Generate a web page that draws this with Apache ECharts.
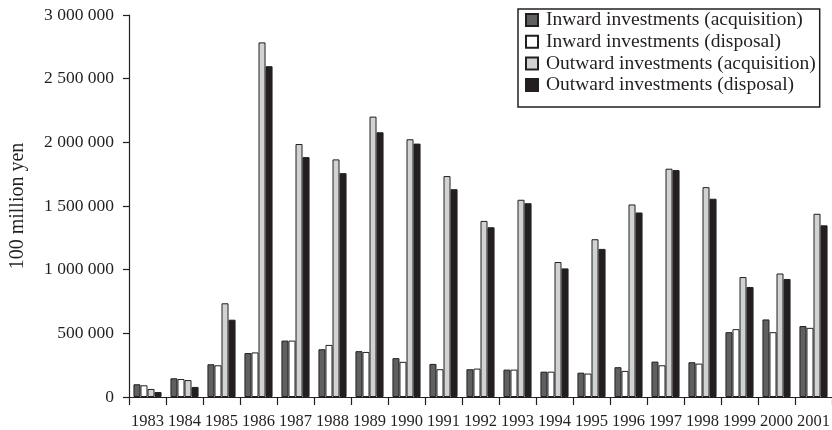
<!DOCTYPE html>
<html>
<head>
<meta charset="utf-8">
<script src="https://cdn.jsdelivr.net/npm/echarts@6/dist/echarts.min.js"></script>
<style>
	html, body { margin: 0; padding: 0; background: #fff; }
	#chart { width: 832px; height: 430px; }
</style>
</head>
<body>
<div id="chart"></div>
<script>
const years = ["1983", "1984", "1985", "1986", "1987", "1988", "1989", "1990", "1991", "1992",
	"1993", "1994", "1995", "1996", "1997", "1998", "1999", "2000", "2001"]
const seriesNames = [
	"Inward investments (acquisition)",
	"Inward investments (disposal)",
	"Outward investments (acquisition)",
	"Outward investments (disposal)",
]
const inwardAcq = [100000, 147000, 257000, 345000, 443000, 375000, 360000, 305000, 260000, 218000,
	215000, 199000, 191000, 234000, 278000, 273000, 509000, 609000, 557000]
const inwardDis = [92000, 141000, 249000, 350000, 443000, 409000, 354000, 276000, 218000, 223000,
	215000, 199000, 184000, 205000, 249000, 262000, 533000, 509000, 543000]
const outwardAcq = [63000, 133000, 736000, 2785000, 1987000, 1866000, 2202000, 2024000, 1735000, 1383000,
	1549000, 1060000, 1239000, 1512000, 1793000, 1648000, 942000, 970000, 1439000]
const outwardDis = [39000, 79000, 607000, 2598000, 1884000, 1758000, 2079000, 1990000, 1632000, 1333000,
	1522000, 1010000, 1163000, 1449000, 1782000, 1557000, 864000, 927000, 1348000]
const yTicks = { min: 0, max: 3000000, interval: 500000 }

const ink = "#231f20"
const font = "Liberation Serif"
const fills = ["#606062", "#ffffff", "#d1d2d4", "#231f20"]
const values = [inwardAcq, inwardDis, outwardAcq, outwardDis]

// 3000000 -> "3 000 000"
const fmt = (v) => String(v).replace(/\B(?=(\d{3})+(?!\d))/g, " ")

let chart = echarts.init(document.getElementById("chart"), null, { renderer: "canvas" })
let option = {
	animation: false,
	backgroundColor: "#fff",
	grid: {
		left: 129,
		right: 0,
		top: 15,
		bottom: 33,
		containLabel: false,
		outerBoundsMode: "none",
	},
	legend: {
		orient: "vertical",
		left: 518,
		top: 9,
		padding: [1, 4, 12, 7],
		itemGap: 1.7,
		itemWidth: 12,
		itemHeight: 12,
		borderColor: ink,
		borderWidth: 1.5,
		borderRadius: 0,
		icon: "rect",
		data: seriesNames,
		textStyle: {
			fontFamily: font,
			fontSize: 19.5,
			color: ink,
			padding: [0, 0, 0, 3],
		},
	},
	xAxis: {
		type: "category",
		data: years,
		axisLine: { lineStyle: { color: ink, width: 1.2 } },
		axisTick: { show: true, length: 8, lineStyle: { color: ink, width: 1.2 } },
		axisLabel: {
			fontFamily: font,
			fontSize: 16.5,
			color: ink,
			margin: 16,
			interval: 0,
		},
		splitLine: { show: false },
	},
	yAxis: {
		type: "value",
		min: yTicks.min,
		max: yTicks.max,
		interval: yTicks.interval,
		name: "100 million yen",
		nameLocation: "middle",
		nameGap: 101,
		nameRotate: 90,
		nameTextStyle: {
			fontFamily: font,
			fontSize: 20,
			color: ink,
		},
		axisLine: { show: true, lineStyle: { color: ink, width: 1.2 } },
		axisTick: { show: true, length: 6, lineStyle: { color: ink, width: 1.2 } },
		axisLabel: {
			fontFamily: font,
			fontSize: 17.5,
			color: ink,
			margin: 15,
			formatter: fmt,
		},
		splitLine: { show: false },
	},
	series: seriesNames.map((name, i) => ({
		name: name,
		type: "bar",
		data: values[i],
		barGap: "0%",
		barCategoryGap: "24%",
		itemStyle: {
			color: fills[i],
			borderColor: ink,
			borderWidth: 1,
		},
	})),
}
chart.setOption(option)
</script>
</body>
</html>
